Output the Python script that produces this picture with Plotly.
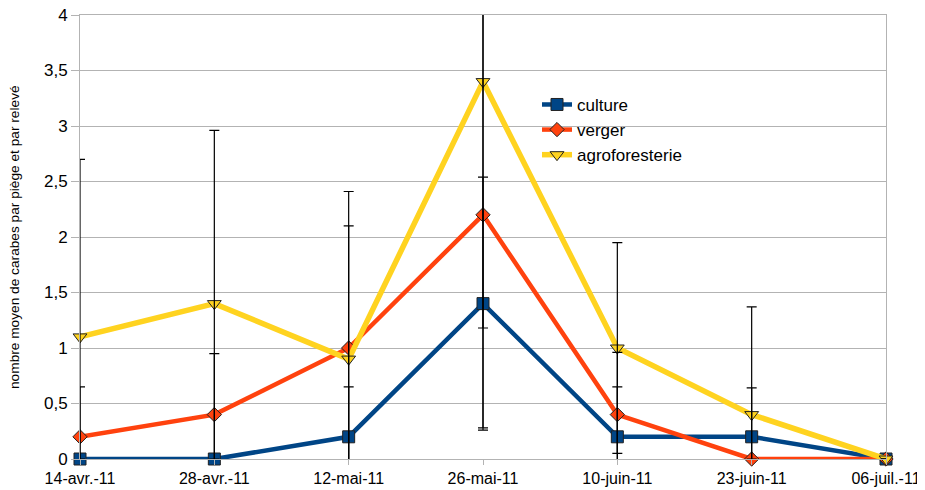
import plotly.graph_objects as go

dates = ["14-avr.-11", "28-avr.-11", "12-mai-11", "26-mai-11", "10-juin-11", "23-juin-11", "06-juil.-11"]
culture = [0, 0, 0.2, 1.4, 0.2, 0.2, 0]
verger = [0.2, 0.4, 1.0, 2.2, 0.4, 0, 0]
agro = [1.1, 1.4, 0.9, 3.4, 1.0, 0.4, 0]
culture_err = [0, 0, 0.45, 1.14, 0.45, 0.44, 0]
verger_err = [0.45, 0.55, 1.1, 1.92, 0.56, 0, 0]
agro_err = [1.6, 1.56, 1.51, 2.22, 0.95, 0.97, 0]

y_ticks = [0, 0.5, 1, 1.5, 2, 2.5, 3, 3.5, 4]
y_title = "nombre moyen de carabes par piège et par relevé"

FONT = "Liberation Sans, Arial, sans-serif"
series = [
    ("culture", culture, culture_err, "#004586", "square", 12, 4.5),
    ("verger", verger, verger_err, "#ff420e", "diamond", 11, 4.5),
    ("agroforesterie", agro, agro_err, "#ffd320", "triangle-down", 12, 5.5),
]

fig = go.Figure()
for name, vals, err, col, sym, msize, lw in series:
    fig.add_trace(go.Scatter(
        x=dates, y=vals, name=name, mode="lines+markers",
        line=dict(color=col, width=lw),
        marker=dict(symbol=sym, size=msize, color=col, line=dict(color="#222222", width=1)),
        cliponaxis=False,
    ))
for name, vals, err, col, sym, msize, lw in series:
    fig.add_trace(go.Scatter(
        x=dates, y=vals, mode="markers", showlegend=False, hoverinfo="skip",
        marker=dict(size=1, opacity=0), cliponaxis=False,
        error_y=dict(type="data", array=err, symmetric=True, color="#000000", thickness=1.2, width=5),
    ))

# the page body has an 8px default margin, so the figure is offset by 8px
fig.update_layout(
    width=917, height=482,
    margin=dict(l=72, r=39, t=7, b=31, autoexpand=False),
    paper_bgcolor="white", plot_bgcolor="white",
    separators=", ",
    font=dict(family=FONT, size=17, color="#000000"),
    showlegend=True,
    legend=dict(x=0.567, y=0.838, xanchor="left", yanchor="top", bgcolor="rgba(0,0,0,0)",
                font=dict(size=17), itemwidth=30, tracegroupgap=0),
    annotations=[dict(text=y_title, textangle=-90, xref="paper", yref="paper",
                      x=-(80 - 14) / 806, y=0.5, xanchor="center", yanchor="middle",
                      showarrow=False, font=dict(size=13.7))],
)
fig.update_xaxes(
    type="category", range=[0, 6], showgrid=False, zeroline=False, automargin=False,
    showline=True, linecolor="#b3b3b3", linewidth=1, mirror=True, ticklabeloverflow="allow",
    ticks="outside", ticklen=5, tickcolor="#b3b3b3", tickfont=dict(size=16),
)
fig.update_yaxes(
    range=[0, 4], tickvals=y_ticks, showgrid=True, gridcolor="#b3b3b3", gridwidth=1,
    zeroline=False, showline=True, linecolor="#b3b3b3", linewidth=1, mirror=True, automargin=False,
    ticklabeloverflow="allow",
    ticks="outside", ticklen=8, tickcolor="#b3b3b3", tickfont=dict(size=17),
)

fig.write_html("out.html")
